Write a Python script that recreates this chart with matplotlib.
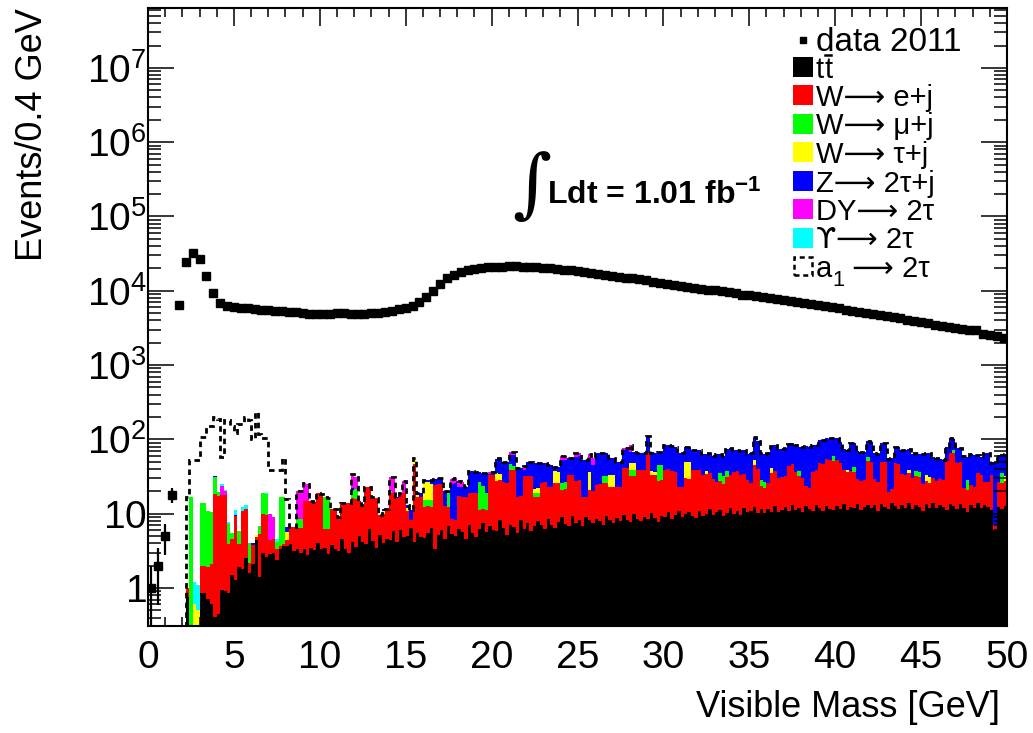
import numpy as np
import matplotlib
matplotlib.use("Agg")
import matplotlib.pyplot as plt
from matplotlib.patches import Rectangle
from matplotlib.lines import Line2D
from matplotlib.ticker import MultipleLocator, FixedLocator, FuncFormatter, NullFormatter

plt.rcParams['font.family'] = ['Liberation Sans', 'DejaVu Sans']
plt.rcParams['mathtext.fontset'] = 'custom'
plt.rcParams['mathtext.rm'] = 'Liberation Sans'
plt.rcParams['mathtext.it'] = 'Liberation Sans:italic'
plt.rcParams['mathtext.bf'] = 'Liberation Sans:bold'
plt.rcParams['axes.linewidth'] = 1.5

# ---------------------------------------------------------------- data
DATA_WIDTH = 0.4   # GeV per data bin
MC_WIDTH = 0.2     # GeV per simulation bin

# observed events per 0.4 GeV bin (0 - 50 GeV)
DATA = [
    1, 2, 5, 18, 6500, 24600, 32600, 26500, 15900, 9300,
    6900, 6240, 6110, 5930, 5810, 5630, 5470, 5470, 5400, 5300,
    5220, 5130, 5020, 4920, 4870, 4870, 4920, 4970, 4970, 4920,
    4820, 4870, 4970, 5100, 5150, 5400, 5630, 5930, 6300, 7000,
    8150, 9930, 12300, 14700, 16500, 18000, 19000, 19800, 20300, 20700,
    21000, 21200, 21300, 21300, 21200, 21000, 20800, 20500, 20200, 19800,
    19300, 18900, 18500, 18000, 17500, 17000, 16500, 16000, 15500, 15100,
    14800, 14300, 13800, 13300, 12900, 12500, 12100, 11700, 11300, 11000,
    10700, 10400, 10100, 9800, 9500, 9200, 8900, 8700, 8400, 8200,
    7900, 7700, 7500, 7300, 7100, 6900, 6700, 6500, 6300, 6100,
    5800, 5600, 5400, 5200, 5000, 4850, 4700, 4550, 4400, 4250,
    4100, 3950, 3800, 3650, 3500, 3400, 3300, 3200, 3100, 3000,
    2950, 2650, 2550, 2450, 2300,
]

# simulated backgrounds, events per 0.2 GeV bin (0 - 50 GeV)
TTBAR = [
    0, 0, 0, 0, 0, 0, 0, 0, 0, 0,
    0, 0.75, 0, 0, 0, 0.85, 0.85, 0.7, 0.6, 0.4,
    0.45, 0.95, 0.9, 0.85, 1.5, 1.3, 1.9, 1.8, 2.5, 1.6,
    2.1, 4.4, 1.4, 3.0, 2.6, 2.9, 3.0, 2.4, 3.4, 3.7,
    3.7, 3.9, 3.1, 3.4, 3.0, 3.3, 2.8, 3.5, 3.2, 4.0,
    3.3, 3.5, 2.9, 3.8, 3.4, 3.1, 4.6, 3.3, 3.0, 4.1,
    3.6, 5.0, 4.2, 3.9, 6.2, 4.3, 3.5, 5.2, 4.0, 4.6,
    4.4, 5.8, 4.1, 6.0, 4.8, 5.0, 6.5, 4.2, 5.5, 4.9,
    4.7, 5.5, 6.4, 3.3, 5.1, 6.0, 4.5, 6.8, 5.4, 5.0,
    6.2, 5.7, 4.6, 7.1, 5.5, 4.9, 6.3, 7.5, 5.6, 6.9,
    6.0, 5.8, 8.1, 6.4, 5.2, 7.0, 6.6, 5.5, 8.3, 6.2,
    7.4, 5.9, 6.8, 8.0, 7.1, 6.3, 8.6, 7.0, 6.5, 7.8,
    8.9, 7.3, 6.8, 9.4, 7.6, 8.2, 6.9, 9.0, 8.1, 7.5,
    8.6, 7.9, 7.0, 9.2, 8.1, 7.4, 8.8, 8.0, 9.6, 8.3,
    7.7, 9.8, 8.6, 8.0, 9.1, 8.4, 10.2, 8.8, 7.8, 9.4,
    8.9, 10.4, 8.4, 9.6, 10.9, 9.0, 9.8, 10.6, 9.2, 8.7,
    11.0, 9.4, 10.0, 11.6, 9.6, 10.7, 11.3, 9.3, 10.2, 11.8,
    9.8, 10.8, 9.5, 12.0, 10.5, 11.0, 12.4, 10.1, 11.5, 10.3,
    11.7, 10.6, 12.5, 10.4, 11.3, 12.2, 10.8, 13.0, 11.1, 11.8,
    10.7, 12.6, 11.4, 11.0, 13.2, 12.0, 10.8, 12.8, 11.5, 11.1,
    12.7, 11.6, 13.3, 11.2, 12.3, 11.8, 13.6, 11.3, 12.4, 13.0,
    11.9, 12.9, 10.9, 13.4, 12.2, 11.6, 13.8, 12.6, 11.4, 13.1,
    12.0, 14.0, 11.5, 12.9, 12.4, 11.0, 13.6, 12.1, 14.1, 11.8,
    13.1, 12.2, 11.2, 13.7, 12.6, 11.6, 13.4, 12.0, 10.7, 13.2,
    12.1, 14.0, 11.8, 12.9, 12.4, 11.3, 6.0, 12.3, 11.7, 12.8,
]

W_ENU = [
    0, 0, 0, 0, 0, 0, 0, 0, 0, 0,
    0, 0.25, 0, 0, 0, 1.1, 1.1, 1.2, 1.5, 18,
    17, 17, 17, 3, 3, 8, 2, 9, 9, 0.6,
    1.7, 0.5, 4, 7, 7, 1.5, 1.5, 1.0, 0.3, 0.2,
    0.7, 2.7, 3.5, 3, 3.5, 11.7, 12, 11.5, 11, 15,
    15, 2.7, 3.3, 7.7, 8, 6, 9.4, 10.7, 11, 12,
    12, 10, 9, 19, 17, 12.7, 13, 4.3, 6, 7,
    14.6, 13, 12, 13, 14, 6, 1.7, 43, 11.5, 12,
    7.7, 7, 6, 21, 20, 19, 8, 5.6, 3, 3.2,
    11, 11, 12, 12, 13.5, 14, 5, 4, 5.6, 26,
    27, 22, 20, 20, 21, 32, 32, 11.5, 9, 26,
    25, 26, 10, 9, 19, 20, 14, 16, 19.5, 18,
    12, 14, 26, 24, 20, 20, 10, 8, 13, 13,
    16, 17, 19, 17, 15, 15.5, 14, 15, 31, 33,
    24, 22, 30, 31, 30, 57, 23, 24, 20, 19,
    30, 29, 29, 27, 12, 14, 20, 19, 30, 30,
    28, 24, 24, 24, 20, 16, 16, 16, 21, 21,
    27, 27, 24, 22, 18, 15, 33, 30, 12, 12,
    14, 25, 25, 20, 20, 20, 33, 33, 25, 20,
    20, 11, 11, 25, 25, 36, 36, 41, 41, 40,
    40, 36, 25, 25, 25, 25, 16, 16, 16, 38,
    38, 16, 16, 37, 37, 8, 8, 35, 35, 21,
    21, 21, 19, 19, 19, 14, 14, 14, 16, 16,
    16, 16, 40, 52, 52, 36, 36, 10, 10, 11,
    11, 21, 21, 14, 14, 22, 1, 14, 14, 15,
]

Z_TAUTAU = [
    0, 0, 0, 0, 0, 0, 0, 0, 0, 0,
    0, 0, 0, 0, 0, 0, 0, 0, 0, 0.3,
    0.3, 0, 0, 0, 0, 0.3, 0, 0, 0, 0,
    0.2, 0, 0, 0, 0, 0, 0, 0, 0, 0,
    1, 0, 0, 0, 0, 0, 0, 0, 0, 0,
    0, 0, 0, 0, 0, 0, 0, 0, 0, 1,
    0, 0, 0, 0, 0, 0, 0, 0, 0.5, 0,
    0, 0, 0.8, 0, 0, 1, 3, 0, 1, 2,
    2, 2, 3, 5, 5, 5, 7.6, 1, 17, 17.8,
    6, 6, 6, 18, 18, 18, 10, 12, 16, 1,
    1, 19, 22, 24, 24, 16, 18, 24, 24, 7,
    18, 18, 26, 26, 22, 22, 22, 22, 6, 6,
    27, 27, 23, 23, 31, 31, 36, 36, 20, 25,
    40, 40, 33, 33, 23, 23, 27, 27, 31, 31,
    20, 20, 26, 26, 26, 44, 28, 28, 23, 23,
    45, 45, 43, 43, 42, 42, 30, 30, 33, 33,
    33, 30, 26, 30, 30, 36, 28, 28, 38, 44,
    35, 35, 37, 39, 35, 39, 52, 55, 37, 38,
    40, 42, 47, 44, 44, 44, 44, 44, 48, 42,
    48, 57, 57, 47, 47, 50, 50, 50, 50, 45,
    53, 45, 35, 32, 52, 46, 40, 40, 40, 36,
    43, 37, 37, 39, 39, 35, 35, 32, 32, 39,
    39, 35, 33, 27, 28, 39, 33, 34, 28, 28,
    25, 25, 27, 38, 30, 28, 28, 37, 29, 39,
    39, 26, 26, 39, 39, 15, 43, 36, 26, 31,
]

# sparse samples: {bin low edge [GeV]: events}
W_MUNU = {
    2.4: 17, 3.0: 12, 3.2: 12, 3.4: 9, 3.6: 8.5, 3.8: 13, 4.0: 2, 4.6: 3.5,
    4.8: 1, 5.2: 2, 5.8: 1.8, 6.4: 1.5, 6.6: 9, 6.8: 9, 7.4: 0.8, 7.6: 13,
    7.8: 13, 8.6: 2, 8.8: 2, 10.2: 10.8, 10.4: 10, 11.8: 5, 12.0: 6, 14.0: 1,
    16.0: 3, 16.2: 3, 16.4: 3, 17.4: 6.6, 19.2: 15, 19.4: 12, 19.6: 8,
    21.0: 7, 21.2: 5, 22.4: 2, 22.6: 2, 24.0: 5, 24.2: 5, 26.4: 6, 26.6: 6,
    28.0: 7, 28.2: 7, 29.6: 17, 29.8: 17, 33.2: 8, 33.4: 7, 33.6: 6,
    35.6: 5, 35.8: 4, 37.8: 6, 39.8: 8, 41.0: 6, 41.8: 7, 44.6: 6, 44.8: 5,
    46.8: 8, 47.6: 8, 49.6: 10,
}
W_TAUNU = {
    2.6: 0.6, 2.8: 0.5, 6.2: 0.2, 8.0: 1.2, 13.6: 1, 15.0: 1, 15.4: 9,
    15.6: 1, 16.0: 11, 16.2: 11, 16.4: 10, 20.2: 8, 20.4: 6, 22.4: 3,
    22.6: 3, 23.6: 11, 23.8: 11, 25.6: 15, 26.8: 10, 27.0: 10, 28.0: 9,
    28.2: 9, 29.2: 4, 29.4: 4, 31.2: 20, 31.4: 20, 32.4: 4, 35.2: 8,
    36.2: 5, 40.6: 3, 44.2: 4, 45.2: 6, 45.4: 5, 49.8: 4,
}
DY = {
    4.2: 6, 4.4: 2, 7.0: 5.5, 7.2: 4.5, 8.6: 12, 8.8: 12, 9.0: 11, 9.2: 10,
    11.8: 12, 12.0: 10, 14.0: 11, 14.2: 12, 14.8: 9, 17.6: 4, 17.8: 4,
    18.0: 4, 18.2: 4, 19.8: 2, 20.0: 2, 21.0: 6, 21.2: 6, 21.8: 4, 24.0: 6,
    24.2: 6, 24.8: 6, 25.0: 6, 25.6: 8, 25.8: 10, 27.6: 4, 27.8: 4,
    28.0: 16, 35.2: 1, 39.6: 2,
}
UPSILON = {
    2.6: 0.6, 2.8: 0.6, 3.8: 0.5, 4.2: 1.5, 4.4: 1, 4.6: 0.3, 5.0: 1.5,
    5.4: 1.5, 5.6: 1.5, 6.8: 0.5, 7.4: 0.3,
}
# a1 -> 2 tau signal, drawn on top of the background sum
A1 = {
    2.2: 16, 2.4: 36, 2.6: 52, 2.8: 52, 3.0: 94, 3.2: 94, 3.4: 139, 3.6: 139,
    3.8: 169, 4.0: 170, 4.2: 33, 4.4: 161, 4.6: 174, 4.8: 144, 5.0: 109,
    5.2: 154, 5.4: 148, 5.6: 187, 5.8: 176, 6.0: 96, 6.2: 230, 6.4: 113,
    6.6: 86, 6.8: 86, 7.0: 29, 7.2: 30, 7.4: 34, 7.6: 22, 7.8: 39, 8.0: 9,
}

Y_DECADES = [1, 10, 1e2, 1e3, 1e4, 1e5, 1e6, 1e7]

ARROW = "\u27f6"
# legend rows: list of (text, size scale, family, baseline shift in px, overbar)
LABELS = [
    [("t", 1.0, None, 0, False), ("t", 1.0, None, 0, True)],
    [("W" + ARROW + " e+j", 1.0, None, 0, False)],
    [("W" + ARROW + " \u03bc+j", 1.0, None, 0, False)],
    [("W" + ARROW + " \u03c4+j", 1.0, None, 0, False)],
    [("Z" + ARROW + " 2\u03c4+j", 1.0, None, 0, False)],
    [("DY" + ARROW + " 2\u03c4", 1.0, None, 0, False)],
    [("\u03d2", 1.0, 'DejaVu Sans', 0, False), (ARROW + " 2\u03c4", 1.0, None, 0, False)],
    [("a", 1.0, None, 0, False), ("1", 0.75, None, 9, False),
     (" " + ARROW + " 2\u03c4", 1.0, None, 0, False)],
]
COLORS = ["#000000", "#ff0000", "#00ff00", "#ffff00", "#0000ff",
          "#ff00ff", "#00ffff"]

# ---------------------------------------------------------------- helpers
n_mc = len(TTBAR)
assert n_mc == len(W_ENU) == len(Z_TAUTAU) == 250 and len(DATA) == 125


def expand(sparse):
    arr = np.zeros(n_mc)
    for lo, v in sparse.items():
        arr[int(round(lo / MC_WIDTH))] = v
    return arr


components = [np.array(TTBAR, float), np.array(W_ENU, float), expand(W_MUNU),
              expand(W_TAUNU), np.array(Z_TAUTAU, float), expand(DY),
              expand(UPSILON)]
mc_edges = np.arange(n_mc + 1) * MC_WIDTH
data = np.array(DATA, float)
data_x = (np.arange(len(DATA)) + 0.5) * DATA_WIDTH

W, H = 1033, 733
fig = plt.figure(figsize=(W / 100, H / 100), dpi=100)
ax = fig.add_axes([148 / W, 1 - 626 / H, (1007 - 148) / W, (626 - 8) / H])
renderer = fig.canvas.get_renderer()


def fx(px):
    return px / W


def fy(py):
    return 1 - py / H


def put_runs(x_px, base_px, runs, size):
    """Write consecutive text pieces on one baseline (pixel coordinates)."""
    x = x_px
    for text, scale, family, shift, overbar in runs:
        kw = {'family': family} if family else {}
        t = fig.text(fx(x), fy(base_px + shift), text, fontsize=size * scale,
                     va='baseline', ha='left', **kw)
        width = t.get_window_extent(renderer).width
        if overbar:
            fig.add_artist(Line2D([fx(x + 1), fx(x + width - 1)],
                                  [fy(base_px - 24)] * 2, color='black',
                                  linewidth=1.8, transform=fig.transFigure))
        x += width


# ---------------------------------------------------------------- stack
bottom = np.full(n_mc, 1e-3)
for comp, color in zip(components, COLORS):
    top = bottom + comp
    ax.stairs(top, mc_edges, baseline=bottom, fill=True, color=color,
              linewidth=0, zorder=1)
    bottom = top

ax.stairs(bottom + expand(A1), mc_edges, baseline=None, color='black',
          linewidth=2.0, linestyle=(0, (2.0, 1.5)), zorder=2)

ax.errorbar(data_x, data, yerr=np.sqrt(data), fmt='s', ms=5.8, color='black',
            ecolor='black', elinewidth=1.6, capsize=0, zorder=3)

# ---------------------------------------------------------------- axes
ax.set_xlim(0, 50)
ax.set_yscale('log')
ax.set_ylim(0.308, 6.4e7)
ax.xaxis.set_major_locator(MultipleLocator(5))
ax.xaxis.set_minor_locator(MultipleLocator(1))
ax.yaxis.set_major_locator(FixedLocator(Y_DECADES))
ax.yaxis.set_minor_locator(FixedLocator(
    [m * d for d in [0.1] + Y_DECADES for m in range(2, 10)
     if 0.308 < m * d < 6.4e7]))
ax.yaxis.set_minor_formatter(NullFormatter())


def log_label(v, pos):
    e = int(round(np.log10(v)))
    if e == 0:
        return r"$\mathregular{1}\ $"
    if e == 1:
        return r"$\mathregular{10}\ $"
    return r"$\mathregular{10^{%d}}$" % e


ax.yaxis.set_major_formatter(FuncFormatter(log_label))
ax.tick_params(which='both', direction='in', top=True, right=True, width=1.1,
               labelsize=28)
ax.tick_params(axis='y', which='major', length=18.7, pad=1)
ax.tick_params(axis='y', which='minor', length=9.4)
ax.tick_params(axis='x', which='major', length=13, pad=10)
ax.tick_params(axis='x', which='minor', length=6.5)

ax.set_xlabel("Visible Mass [GeV]", fontsize=26, loc='right')
ax.xaxis.set_label_coords((1000 - 148) / 859, (626 - 690) / 618)
ax.set_ylabel("Events/0.4 GeV", fontsize=26, loc='top')
ax.yaxis.set_label_coords((50 - 148) / 859, 1.0)

# ---------------------------------------------------------------- legend
fig.add_artist(Line2D([fx(803)], [fy(40)], marker='s', ms=5, color='black',
                      linestyle='none', transform=fig.transFigure))
fig.text(fx(816), fy(51), "data 2011", fontsize=24, va='baseline')
for i, runs in enumerate(LABELS):
    top = 56.5 + 28.5 * i
    if i < len(COLORS):
        fig.add_artist(Rectangle((fx(793), fy(top + 20)), 20 / W, 20 / H,
                                 transform=fig.transFigure,
                                 facecolor=COLORS[i], edgecolor='none'))
    else:
        fig.add_artist(Rectangle((fx(794), fy(top + 19)), 18 / W, 18 / H,
                                 transform=fig.transFigure, facecolor='none',
                                 edgecolor='black', linewidth=1.8,
                                 linestyle=(0, (2.0, 1.5))))
    base = top + (22 if i == 0 else 21)
    put_runs(816, base, runs, 21)

# luminosity label
fig.text(fx(512), fy(188), "\u222b", fontsize=54, family='DejaVu Serif',
         va='center', ha='left')
fig.text(fx(547), fy(204), r"Ldt = 1.01 fb$^{\mathbf{-1}}$", fontsize=23,
         fontweight='bold', va='baseline')

fig.savefig("out.png", dpi=100)
